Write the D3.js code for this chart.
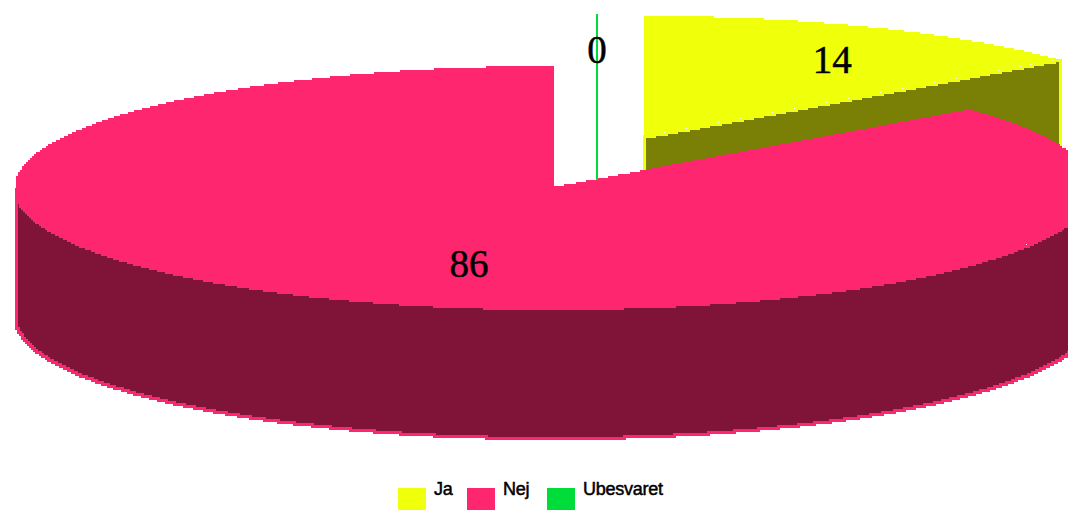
<!DOCTYPE html>
<html>
<head>
<meta charset="utf-8">
<script src="https://cdn.jsdelivr.net/npm/d3@7"></script>
<style>
  html, body { margin: 0; padding: 0; background: #fff; overflow: hidden; }
</style>
</head>
<body>
<div id="container"></div>
<script>
const categories = ['Ja', 'Nej', 'Ubesvaret'];
const values = [14, 86, 0];

const colors = ['#f0ff0a', '#ff2670', '#00dd3b'];
const wallColors = ['#7a7f05', '#7f1338', '#007f22'];

const width = 1068;
const height = 510;
const rx = 539;
const ry = 121;
const depth = 130;

// exploded slices, each has its own centre
const centres = [[644, 137], [554, 187], [597, 135]];
const labelFx = [0.82, 0.37, 0];
const labelFy = 0.7;

// legend x positions
const legendX = [398, 467, 547];

const svg = d3.select('#container')
                .append('svg')
                .attr('width', width)
                .attr('height', height)
                .style('display', 'block')
                .style('background-color', '#fff');

const slices = d3.pie().sort(null).value(d => d)(values);

// the original is a blown up low res bitmap, so edges go in 2px stairs
const snap = p => [Math.round(p[0] / 2) * 2, Math.round(p[1] / 2) * 2];

const rim = (c, a, drop = 0) => [c[0] + rx * Math.sin(a), c[1] - ry * Math.cos(a) + drop];

function arcPoints(c, a0, a1, drop = 0) {
    const n = Math.max(1, Math.ceil((a1 - a0) / 0.001));
    return d3.range(n + 1).map(i => snap(rim(c, a0 + (a1 - a0) * i / n, drop)));
}

function edgePoints(p, q) {
    const n = Math.ceil(Math.hypot(q[0] - p[0], q[1] - p[1]));
    return d3.range(n + 1).map(i => snap([p[0] + (q[0] - p[0]) * i / n, p[1] + (q[1] - p[1]) * i / n]));
}

// keep right angles between samples
const stairs = d3.line().curve(d3.curveStepAfter);

const draw = [0, 2, 1];  // paint order: pink lies over the others

draw.forEach(i => {
    const s = slices[i];
    const c = centres[i];
    const a0 = s.startAngle;
    const a1 = s.endAngle;
    const g = svg.append('g').attr('shape-rendering', 'crispEdges');

    // cut face at the end of the slice
    if (a1 > a0 && a1 < Math.PI) {
        const cut = edgePoints(c, rim(c, a1))
            .concat(edgePoints(rim(c, a1, depth), [c[0], c[1] + depth]));
        g.append('path')
            .attr('d', stairs(cut) + 'Z')
            .attr('fill', wallColors[i])
            .attr('stroke', colors[i])
            .attr('stroke-width', 3);
    }

    // outer wall, only the front half of the rim shows
    const f0 = Math.max(a0, Math.PI / 2);
    const f1 = Math.min(a1, Math.PI * 1.5);
    if (f1 > f0) {
        const top = arcPoints(c, f0, f1);
        const bottom = arcPoints(c, f0, f1, depth).reverse();
        g.append('path')
            .attr('d', stairs(top.concat(bottom)) + 'Z')
            .attr('fill', wallColors[i])
            .attr('stroke', colors[i])
            .attr('stroke-width', 3);
    }

    // top face
    if (a1 > a0) {
        const face = edgePoints(c, rim(c, a0))
            .concat(arcPoints(c, a0, a1))
            .concat(edgePoints(rim(c, a1), c));
        g.append('path')
            .attr('d', stairs(face) + 'Z')
            .attr('fill', colors[i]);
    } else {
        // empty slice is only its cut, seen as a line
        g.append('path')
            .attr('d', d3.line()([rim(c, a0), [c[0], c[1] + depth]]))
            .attr('fill', 'none')
            .attr('stroke', colors[i])
            .attr('stroke-width', 2);
    }
});

// value labels
slices.forEach((s, i) => {
    const mid = (s.startAngle + s.endAngle) / 2;
    const c = centres[i];
    svg.append('text')
        .attr('x', c[0] + rx * labelFx[i] * Math.sin(mid))
        .attr('y', c[1] - ry * labelFy * Math.cos(mid) + 13)
        .attr('text-anchor', 'middle')
        .style('font-family', '"Liberation Serif", serif')
        .style('font-size', '39px')
        .style('fill', '#000')
        .style('stroke', '#000')
        .style('stroke-width', 0.5)
        .text(values[i]);
});

// legend
const legend = svg.append('g').attr('id', 'legend');

categories.forEach((name, i) => {
    legend.append('rect')
        .attr('x', legendX[i])
        .attr('y', 488)
        .attr('width', 28)
        .attr('height', 22)
        .attr('fill', colors[i]);

    legend.append('text')
        .attr('x', legendX[i] + 36)
        .attr('y', 495)
        .style('font-family', '"Liberation Sans", Arial, sans-serif')
        .style('font-size', '18px')
        .style('letter-spacing', '-0.25px')
        .style('fill', '#000')
        .style('stroke', '#000')
        .style('stroke-width', 0.5)
        .text(name);
});
</script>
</body>
</html>
